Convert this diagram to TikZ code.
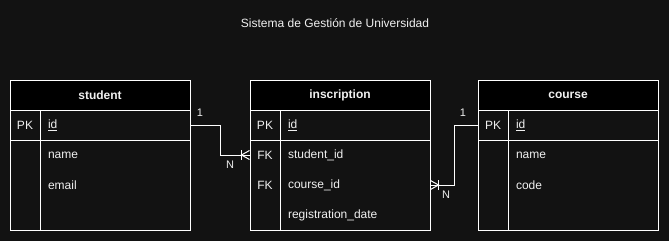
\documentclass[tikz,border=0pt]{standalone}
\usepackage{fontspec}
\setmainfont{Liberation Sans}
\usetikzlibrary{positioning}

\definecolor{canvasbg}{HTML}{121212}
\definecolor{inkwhite}{HTML}{F0F0F0}

\tikzset{
    crowfoot/.pic={
        \draw[relline] (0,4.5) -- (-8,0) -- (0,-4.5);
        \draw[relline] (-8,5) -- (-8,-5);
    }
}

\begin{document}
\begin{tikzpicture}[x=1pt, y=1pt,
    tablehead/.style={rectangle, draw=white, fill=black, line width=1pt, minimum width=180pt, minimum height=30pt, inner sep=0pt, text=inkwhite, font=\bfseries\fontsize{12}{14}\selectfont},
    keycell/.style={rectangle, draw=white, line width=1pt, minimum width=30pt, minimum height=30pt, inner sep=0pt, text=inkwhite, font=\fontsize{12}{14}\selectfont},
    fieldcell/.style={rectangle, draw=white, line width=1pt, text width=134pt, inner xsep=8pt, inner ysep=0pt, minimum height=30pt, align=left, text=inkwhite, font=\fontsize{12}{14}\selectfont},
    keylabel/.style={keycell, draw=none},
    fieldlabel/.style={fieldcell, draw=none},
    bodykey/.style={rectangle, draw=white, line width=1pt, minimum width=30pt, minimum height=90pt, inner sep=0pt},
    bodyfield/.style={rectangle, draw=white, line width=1pt, minimum width=150pt, minimum height=90pt, inner sep=0pt},
    relline/.style={draw=white, line width=1pt},
    cardlabel/.style={text=inkwhite, inner sep=0pt, font=\fontsize{11}{13}\selectfont}
]
    \useasboundingbox (0,0) rectangle (669,-241);
    \fill[canvasbg] (0,0) rectangle (669,-241);

    \node[text=inkwhite, font=\fontsize{12}{14}\selectfont] (title) at (335,-23) {Sistema de Gestión de Universidad};

    % student
    \node[tablehead] (student) at (100,-95) {student};
    \node[keycell] (studentpk) at (25,-125) {PK};
    \node[fieldcell] (studentid) at (115,-125) {\underline{id}};
    \node[bodykey] (studentkeys) at (25,-185) {};
    \node[bodyfield] (studentfields) at (115,-185) {};
    \node[fieldlabel] (studentname) at (115,-155) {name};
    \node[fieldlabel] (studentemail) at (115,-185) {email};

    % inscription
    \node[tablehead] (inscription) at (340,-95) {inscription};
    \node[keycell] (inscpk) at (265,-125) {PK};
    \node[fieldcell] (inscid) at (355,-125) {\underline{id}};
    \node[bodykey] (insckeys) at (265,-185) {};
    \node[bodyfield] (inscfields) at (355,-185) {};
    \node[keylabel] (inscfkstudent) at (265,-155) {FK};
    \node[fieldlabel] (inscstudentid) at (355,-155) {student\_id};
    \node[keylabel] (inscfkcourse) at (265,-185) {FK};
    \node[fieldlabel] (insccourseid) at (355,-185) {course\_id};
    \node[fieldlabel] (inscdate) at (355,-215) {registration\_date};

    % course
    \node[tablehead] (course) at (568,-95) {course};
    \node[keycell] (coursepk) at (493,-125) {PK};
    \node[fieldcell] (courseid) at (583,-125) {\underline{id}};
    \node[bodykey] (coursekeys) at (493,-185) {};
    \node[bodyfield] (coursefields) at (583,-185) {};
    \node[fieldlabel] (coursename) at (583,-155) {name};
    \node[fieldlabel] (coursecode) at (583,-185) {code};

    % relations
    \draw[relline] (studentid.east) -- ++(30,0) |- (inscfkstudent.west);
    \pic at (inscfkstudent.west) {crowfoot};
    \node[cardlabel] (studentone) at (200,-113) {1};
    \node[cardlabel] (studentmany) at (230,-165) {N};

    \draw[relline] (coursepk.west) -- ++(-23,0) |- (insccourseid.east);
    \pic[rotate=180] at (insccourseid.east) {crowfoot};
    \node[cardlabel] (courseone) at (463,-113) {1};
    \node[cardlabel] (coursemany) at (446,-195) {N};
\end{tikzpicture}
\end{document}
